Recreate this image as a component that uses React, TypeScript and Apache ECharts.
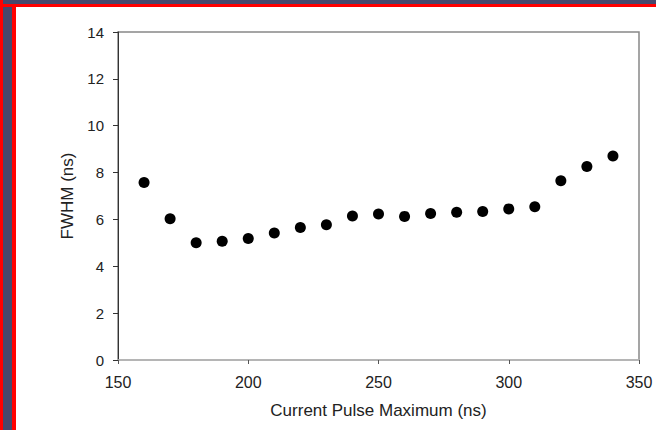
import React, { useEffect, useRef } from "react";
import * as echarts from "echarts";

const xValues = [160, 170, 180, 190, 200, 210, 220, 230, 240, 250, 260, 270, 280, 290, 300, 310, 320, 330, 340];
const fwhm = [7.58, 6.03, 5.0, 5.07, 5.19, 5.42, 5.66, 5.77, 6.15, 6.23, 6.13, 6.25, 6.31, 6.34, 6.45, 6.54, 7.65, 8.26, 8.71];
const xTitle = "Current Pulse Maximum (ns)";
const yTitle = "FWHM (ns)";

export default function App() {
  const ref = useRef<HTMLDivElement>(null);
  useEffect(() => {
    if (!ref.current) return;
    const chart = echarts.init(ref.current, null, { renderer: "svg" });
    const dark = "#46486c";
    const red = "#ff0000";
    chart.setOption({
      animation: false,
      backgroundColor: "#ffffff",
      textStyle: { fontFamily: "Liberation Sans, Arial, sans-serif" },
      graphic: [
        { type: "rect", shape: { x: 0, y: 0, width: 656, height: 4 }, style: { fill: dark }, silent: true },
        { type: "rect", shape: { x: 0, y: 4, width: 656, height: 3 }, style: { fill: red }, silent: true },
        { type: "rect", shape: { x: 0, y: 0, width: 3, height: 430 }, style: { fill: red }, silent: true },
        { type: "rect", shape: { x: 3, y: 7, width: 9, height: 423 }, style: { fill: dark }, silent: true },
        { type: "rect", shape: { x: 12, y: 7, width: 4, height: 423 }, style: { fill: red }, silent: true },
      ],
      grid: {
        left: 118,
        right: 17,
        top: 32,
        bottom: 70,
        show: true,
        borderColor: "#888888",
        borderWidth: 1.5,
        backgroundColor: "transparent",
      },
      xAxis: {
        type: "value",
        min: 150,
        max: 350,
        interval: 50,
        name: xTitle,
        nameLocation: "middle",
        nameGap: 42,
        nameTextStyle: { fontSize: 17, color: "#222" },
        axisLine: { show: true, onZero: false, lineStyle: { color: "#bbbbbb", width: 1.5 } },
        axisTick: { show: true, length: 4, lineStyle: { color: "#555" } },
        axisLabel: { fontSize: 16, color: "#222", margin: 14 },
        splitLine: { show: false },
      },
      yAxis: {
        type: "value",
        min: 0,
        max: 14,
        interval: 2,
        name: yTitle,
        nameLocation: "middle",
        nameGap: 41,
        nameTextStyle: { fontSize: 17, color: "#222" },
        axisLine: { show: true, lineStyle: { color: "#333", width: 1 } },
        axisTick: { show: true, length: 5, lineStyle: { color: "#333" } },
        axisLabel: { fontSize: 15, color: "#222", margin: 14 },
        splitLine: { show: false },
      },
      series: [
        {
          type: "scatter",
          data: xValues.map((x, i) => [x, fwhm[i]]),
          symbol: "circle",
          symbolSize: 11,
          itemStyle: { color: "#000", opacity: 1 },
        },
      ],
    });
    return () => chart.dispose();
  }, []);
  return (
    <div
      ref={ref}
      style={{ position: "fixed", left: 0, top: 0, width: 656, height: 430 }}
    />
  );
}
